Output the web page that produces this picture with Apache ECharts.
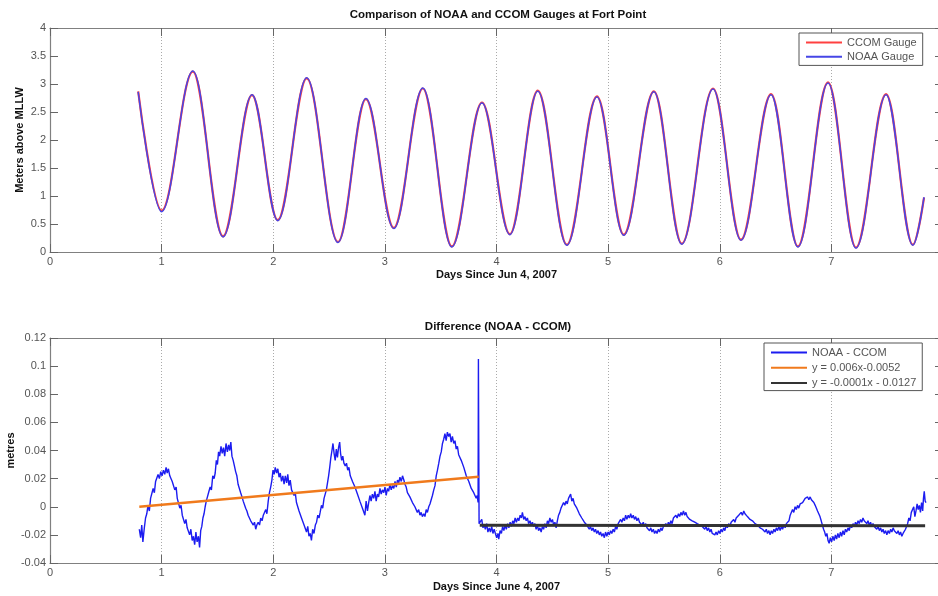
<!DOCTYPE html>
<html>
<head>
<meta charset="utf-8">
<script src="https://cdn.jsdelivr.net/npm/echarts@6/dist/echarts.min.js"></script>
<style>
html,body{margin:0;padding:0;background:#fff;}
#chart{width:938px;height:596px;}
</style>
</head>
<body>
<div id="chart"></div>
<script>
// ---------- DATA ----------
// Top panel: tide extremes (days since Jun 4, 2007 ; metres above MLLW)
const tideDays   = [0.79, 1.00, 1.28, 1.55, 1.81, 2.04, 2.30, 2.58, 2.83, 3.08, 3.34, 3.60, 3.87, 4.12, 4.37, 4.63, 4.90, 5.14, 5.41, 5.66, 5.94, 6.19, 6.46, 6.70, 6.97, 7.22, 7.49, 7.73, 7.83];
const ccomLevel  = [2.87, 0.74, 3.22, 0.28, 2.80, 0.57, 3.10, 0.18, 2.73, 0.43, 2.92, 0.10, 2.67, 0.32, 2.88, 0.13, 2.78, 0.31, 2.87, 0.15, 2.92, 0.22, 2.82, 0.10, 3.03, 0.08, 2.82, 0.13, 0.97];
const noaaLevel  = [2.86, 0.72, 3.23, 0.27, 2.81, 0.56, 3.11, 0.17, 2.74, 0.42, 2.93, 0.09, 2.66, 0.31, 2.87, 0.12, 2.77, 0.30, 2.86, 0.14, 2.91, 0.21, 2.81, 0.09, 3.02, 0.07, 2.81, 0.12, 0.98];

// Bottom panel: NOAA - CCOM difference (days ; metres)
const diffSeries = [
[0.800,-0.016],[0.812,-0.022],[0.822,-0.013],[0.832,-0.025],[0.845,-0.015],[0.856,-0.008],[0.867,-0.005],[0.878,0.001],[0.890,-0.003],[0.901,0.006],[0.912,0.007],[0.924,0.013],[0.935,0.010],[0.946,0.018],[0.957,0.019],[0.968,0.023],[0.980,0.020],[0.992,0.025],[1.004,0.022],[1.016,0.026],[1.028,0.023],[1.040,0.028],[1.050,0.024],[1.061,0.027],[1.073,0.022],[1.085,0.023],[1.095,0.018],[1.106,0.019],[1.118,0.012],[1.130,0.014],[1.140,0.006],[1.151,0.005],[1.163,-0.001],[1.174,0.001],[1.185,-0.006],[1.196,-0.007],[1.207,-0.012],[1.218,-0.009],[1.229,-0.015],[1.240,-0.014],[1.251,-0.020],[1.262,-0.016],[1.274,-0.024],[1.285,-0.021],[1.296,-0.027],[1.307,-0.018],[1.318,-0.025],[1.330,-0.021],[1.340,-0.029],[1.350,-0.017],[1.360,-0.014],[1.370,-0.008],[1.380,-0.005],[1.390,0.000],[1.400,0.004],[1.412,0.003],[1.424,0.011],[1.435,0.014],[1.446,0.012],[1.458,0.022],[1.470,0.020],[1.480,0.024],[1.490,0.033],[1.500,0.030],[1.510,0.039],[1.520,0.036],[1.532,0.043],[1.543,0.038],[1.554,0.042],[1.565,0.036],[1.577,0.045],[1.589,0.039],[1.600,0.044],[1.610,0.040],[1.620,0.046],[1.630,0.036],[1.641,0.033],[1.652,0.029],[1.663,0.025],[1.674,0.022],[1.685,0.016],[1.697,0.017],[1.708,0.010],[1.720,0.007],[1.731,0.004],[1.742,0.005],[1.753,-0.001],[1.764,-0.003],[1.775,-0.006],[1.787,-0.005],[1.798,-0.010],[1.810,-0.009],[1.821,-0.013],[1.832,-0.011],[1.843,-0.016],[1.853,-0.013],[1.865,-0.011],[1.877,-0.013],[1.888,-0.008],[1.900,-0.010],[1.911,-0.006],[1.922,-0.007],[1.933,-0.002],[1.943,-0.005],[1.955,0.004],[1.966,0.010],[1.977,0.014],[1.988,0.019],[1.998,0.026],[2.008,0.023],[2.018,0.028],[2.030,0.024],[2.041,0.027],[2.052,0.021],[2.063,0.024],[2.074,0.018],[2.086,0.022],[2.097,0.016],[2.108,0.022],[2.120,0.017],[2.130,0.023],[2.141,0.015],[2.152,0.019],[2.164,0.012],[2.175,0.013],[2.186,0.008],[2.197,0.010],[2.208,0.003],[2.220,0.004],[2.231,-0.003],[2.242,-0.002],[2.253,-0.008],[2.264,-0.007],[2.276,-0.013],[2.287,-0.012],[2.298,-0.018],[2.309,-0.014],[2.320,-0.021],[2.331,-0.019],[2.342,-0.024],[2.353,-0.016],[2.365,-0.019],[2.377,-0.013],[2.388,-0.011],[2.399,-0.006],[2.410,-0.008],[2.420,-0.004],[2.432,0.001],[2.443,-0.001],[2.455,0.006],[2.466,0.005],[2.476,0.012],[2.486,0.017],[2.496,0.022],[2.506,0.028],[2.516,0.035],[2.526,0.040],[2.535,0.045],[2.545,0.038],[2.555,0.033],[2.565,0.041],[2.575,0.035],[2.585,0.042],[2.595,0.046],[2.603,0.038],[2.613,0.033],[2.623,0.036],[2.633,0.031],[2.645,0.029],[2.656,0.031],[2.667,0.026],[2.678,0.028],[2.690,0.022],[2.700,0.023],[2.710,0.018],[2.720,0.019],[2.732,0.014],[2.743,0.015],[2.754,0.009],[2.765,0.009],[2.776,0.004],[2.788,0.005],[2.799,-0.001],[2.810,0.000],[2.821,-0.006],[2.832,0.004],[2.844,-0.003],[2.855,0.003],[2.866,0.008],[2.877,0.004],[2.888,0.009],[2.900,0.006],[2.911,0.011],[2.922,0.004],[2.933,0.009],[2.944,0.007],[2.956,0.013],[2.967,0.009],[2.978,0.012],[2.990,0.010],[3.001,0.014],[3.012,0.008],[3.023,0.013],[3.034,0.011],[3.045,0.016],[3.057,0.012],[3.068,0.015],[3.080,0.013],[3.091,0.018],[3.102,0.014],[3.113,0.019],[3.124,0.017],[3.135,0.021],[3.147,0.018],[3.158,0.022],[3.170,0.019],[3.180,0.016],[3.191,0.014],[3.202,0.010],[3.213,0.011],[3.224,0.007],[3.236,0.008],[3.247,0.003],[3.258,0.004],[3.269,0.000],[3.280,0.001],[3.291,-0.004],[3.303,-0.002],[3.314,-0.006],[3.325,-0.004],[3.336,-0.007],[3.348,-0.005],[3.359,-0.007],[3.370,-0.002],[3.381,-0.004],[3.393,0.000],[3.404,0.002],[3.415,0.005],[3.426,0.008],[3.438,0.012],[3.449,0.015],[3.460,0.022],[3.471,0.026],[3.483,0.031],[3.494,0.036],[3.505,0.039],[3.516,0.045],[3.527,0.048],[3.538,0.052],[3.549,0.047],[3.560,0.053],[3.572,0.050],[3.583,0.052],[3.594,0.046],[3.605,0.050],[3.617,0.045],[3.628,0.047],[3.639,0.041],[3.650,0.043],[3.661,0.037],[3.672,0.038],[3.684,0.033],[3.695,0.032],[3.707,0.028],[3.718,0.027],[3.729,0.022],[3.740,0.023],[3.752,0.018],[3.763,0.017],[3.774,0.013],[3.785,0.014],[3.796,0.010],[3.807,0.011],[3.818,0.006],[3.827,0.008],
[3.835,0.003],[3.838,0.105],[3.841,0.045],[3.844,-0.012],
[3.857,-0.012],[3.868,-0.009],[3.879,-0.015],[3.890,-0.013],[3.900,-0.016],[3.912,-0.012],[3.923,-0.018],[3.935,-0.015],[3.946,-0.018],[3.957,-0.014],[3.968,-0.019],[3.979,-0.016],[3.990,-0.019],[4.002,-0.022],[4.013,-0.019],[4.020,-0.023],[4.032,-0.017],[4.044,-0.019],[4.055,-0.014],[4.066,-0.017],[4.077,-0.013],[4.088,-0.016],[4.100,-0.012],[4.111,-0.015],[4.122,-0.011],[4.133,-0.014],[4.145,-0.010],[4.156,-0.012],[4.167,-0.008],[4.178,-0.011],[4.190,-0.008],[4.200,-0.010],[4.212,-0.006],[4.223,-0.008],[4.232,-0.004],[4.244,-0.009],[4.255,-0.007],[4.266,-0.010],[4.277,-0.008],[4.288,-0.012],[4.300,-0.010],[4.311,-0.013],[4.322,-0.011],[4.333,-0.014],[4.344,-0.012],[4.355,-0.016],[4.366,-0.013],[4.377,-0.017],[4.389,-0.015],[4.400,-0.018],[4.411,-0.014],[4.422,-0.016],[4.433,-0.012],[4.445,-0.015],[4.456,-0.010],[4.467,-0.012],[4.478,-0.008],[4.490,-0.011],[4.501,-0.009],[4.512,-0.013],[4.523,-0.011],[4.534,-0.015],[4.545,-0.010],[4.556,-0.006],[4.567,-0.004],[4.578,-0.001],[4.590,0.000],[4.601,0.003],[4.612,0.001],[4.623,0.004],[4.634,0.002],[4.645,0.006],[4.656,0.005],[4.664,0.009],[4.675,0.004],[4.686,0.006],[4.697,0.002],[4.708,0.003],[4.720,-0.001],[4.731,-0.002],[4.742,-0.005],[4.753,-0.004],[4.764,-0.008],[4.775,-0.007],[4.787,-0.011],[4.798,-0.010],[4.809,-0.013],[4.820,-0.012],[4.831,-0.016],[4.842,-0.014],[4.853,-0.017],[4.865,-0.015],[4.876,-0.018],[4.887,-0.016],[4.898,-0.019],[4.910,-0.017],[4.921,-0.020],[4.932,-0.018],[4.943,-0.021],[4.955,-0.019],[4.966,-0.022],[4.977,-0.018],[4.988,-0.021],[5.000,-0.018],[5.011,-0.020],[5.022,-0.017],[5.033,-0.019],[5.045,-0.016],[5.056,-0.018],[5.067,-0.014],[5.078,-0.016],[5.090,-0.012],[5.101,-0.013],[5.112,-0.009],[5.123,-0.011],[5.135,-0.008],[5.146,-0.010],[5.157,-0.006],[5.168,-0.009],[5.180,-0.006],[5.191,-0.008],[5.202,-0.005],[5.213,-0.008],[5.225,-0.006],[5.236,-0.009],[5.247,-0.007],[5.258,-0.010],[5.270,-0.008],[5.281,-0.011],[5.292,-0.010],[5.303,-0.013],[5.315,-0.011],[5.326,-0.014],[5.337,-0.012],[5.348,-0.015],[5.360,-0.014],[5.371,-0.017],[5.382,-0.015],[5.393,-0.018],[5.405,-0.016],[5.416,-0.019],[5.427,-0.017],[5.438,-0.019],[5.450,-0.016],[5.461,-0.018],[5.472,-0.015],[5.483,-0.017],[5.495,-0.014],[5.506,-0.015],[5.517,-0.012],[5.528,-0.014],[5.540,-0.011],[5.551,-0.013],[5.562,-0.010],[5.573,-0.012],[5.585,-0.008],[5.596,-0.009],[5.607,-0.006],[5.618,-0.008],[5.630,-0.005],[5.641,-0.007],[5.652,-0.004],[5.663,-0.006],[5.675,-0.003],[5.686,-0.006],[5.697,-0.004],[5.708,-0.007],[5.720,-0.006],[5.731,-0.009],[5.742,-0.008],[5.753,-0.010],[5.765,-0.009],[5.776,-0.011],[5.787,-0.010],[5.798,-0.012],[5.810,-0.011],[5.821,-0.013],[5.832,-0.012],[5.843,-0.014],[5.855,-0.013],[5.866,-0.016],[5.877,-0.014],[5.888,-0.017],[5.900,-0.015],[5.911,-0.018],[5.922,-0.016],[5.933,-0.019],[5.945,-0.018],[5.956,-0.020],[5.967,-0.018],[5.978,-0.020],[5.990,-0.017],[6.001,-0.019],[6.012,-0.016],[6.023,-0.018],[6.035,-0.015],[6.046,-0.017],[6.057,-0.013],[6.068,-0.015],[6.080,-0.012],[6.091,-0.014],[6.102,-0.011],[6.113,-0.012],[6.125,-0.009],[6.136,-0.011],[6.147,-0.008],[6.158,-0.009],[6.170,-0.006],[6.181,-0.007],[6.192,-0.004],[6.203,-0.006],[6.215,-0.003],[6.226,-0.005],[6.237,-0.004],[6.248,-0.007],[6.260,-0.006],[6.271,-0.009],[6.282,-0.008],[6.293,-0.010],[6.305,-0.009],[6.316,-0.012],[6.327,-0.011],[6.338,-0.013],[6.350,-0.012],[6.361,-0.015],[6.372,-0.014],[6.383,-0.016],[6.395,-0.015],[6.406,-0.018],[6.417,-0.016],[6.428,-0.019],[6.440,-0.017],[6.451,-0.020],[6.462,-0.017],[6.473,-0.019],[6.485,-0.016],[6.496,-0.018],[6.507,-0.015],[6.518,-0.017],[6.530,-0.014],[6.541,-0.017],[6.552,-0.014],[6.563,-0.016],[6.575,-0.013],[6.586,-0.015],[6.597,-0.012],[6.608,-0.013],[6.620,-0.010],[6.631,-0.006],[6.642,-0.007],[6.652,-0.002],[6.663,-0.004],[6.675,0.000],[6.686,-0.002],[6.697,0.001],[6.708,-0.001],[6.720,0.002],[6.731,0.001],[6.742,0.003],[6.753,0.004],[6.765,0.006],[6.776,0.005],[6.787,0.007],[6.798,0.005],[6.810,0.007],[6.821,0.005],[6.832,0.005],[6.843,0.003],[6.855,0.001],[6.866,-0.001],[6.876,-0.003],[6.887,-0.005],[6.898,-0.007],[6.909,-0.010],[6.920,-0.011],[6.930,-0.016],[6.940,-0.018],[6.950,-0.021],[6.960,-0.019],[6.970,-0.024],[6.980,-0.026],[6.991,-0.022],[7.002,-0.025],[7.013,-0.021],[7.025,-0.024],[7.036,-0.020],[7.047,-0.023],[7.058,-0.019],[7.070,-0.022],[7.081,-0.018],[7.092,-0.021],[7.104,-0.017],[7.115,-0.020],[7.126,-0.016],[7.137,-0.018],[7.149,-0.015],[7.160,-0.017],[7.171,-0.013],[7.182,-0.015],[7.194,-0.012],[7.205,-0.014],[7.216,-0.011],[7.227,-0.013],[7.239,-0.010],[7.250,-0.012],[7.261,-0.009],[7.272,-0.011],[7.283,-0.008],[7.294,-0.010],[7.306,-0.009],[7.317,-0.012],[7.328,-0.010],[7.339,-0.013],[7.351,-0.011],[7.362,-0.014],[7.373,-0.012],[7.384,-0.014],[7.396,-0.013],[7.407,-0.016],[7.418,-0.014],[7.430,-0.017],[7.441,-0.015],[7.452,-0.018],[7.463,-0.016],[7.474,-0.019],[7.486,-0.017],[7.497,-0.020],[7.508,-0.017],[7.520,-0.019],[7.531,-0.016],[7.542,-0.018],[7.553,-0.015],[7.564,-0.017],[7.576,-0.016],[7.587,-0.019],[7.598,-0.017],[7.609,-0.020],[7.620,-0.018],[7.631,-0.021],[7.642,-0.019],[7.653,-0.020],[7.664,-0.016],[7.675,-0.017],[7.683,-0.012],[7.694,-0.008],[7.705,-0.010],[7.716,-0.004],[7.728,-0.005],[7.738,0.000],[7.748,-0.007],[7.758,-0.003],[7.768,0.002],[7.778,-0.002],[7.788,0.001],[7.798,-0.004],[7.808,0.003],[7.818,-0.003],[7.825,0.006],[7.832,0.011],[7.840,0.004],[7.848,0.003]
];

// Linear fits (end points)
const fitRisingDays   = [0.80, 3.84];
const fitRisingValues = [0.000, 0.0213];
const fitFlatDays     = [3.85, 7.84];
const fitFlatValues   = [-0.0131, -0.0135];

// Labels
const topTitle = 'Comparison of NOAA and CCOM Gauges at Fort Point';
const bottomTitle = 'Difference (NOAA - CCOM)';
const topXName = 'Days Since Jun 4, 2007';
const bottomXName = 'Days Since June 4, 2007';
const topYName = 'Meters above MLLW';
const bottomYName = 'metres';
const legendTop = ['CCOM Gauge', 'NOAA Gauge'];
const legendBottom = ['NOAA - CCOM', 'y = 0.006x-0.0052', 'y = -0.0001x - 0.0127'];

// ---------- CHART ----------
const FONT = '"Liberation Sans", Arial, sans-serif';
const zip = (a, b) => a.map((v, i) => [v, b[i]]);
const axisGray = '#808080';

function xAxes(gridIndex, name, gap) {
  const base = {
    type: 'value', gridIndex: gridIndex, min: 0, max: 8, interval: 1,
    axisLine: {show: true, onZero: false, lineStyle: {color: axisGray, width: 1.2}},
    axisTick: {show: true, inside: true, length: 8, lineStyle: {color: '#666'}},
  };
  return [
    Object.assign({}, base, {
      position: 'bottom', name: name, nameLocation: 'middle', nameGap: gap, nameMoveOverlap: false,
      nameTextStyle: {fontFamily: FONT, fontSize: 11, fontWeight: 'bold', color: '#111'},
      axisLabel: {show: true, margin: 4, fontFamily: FONT, fontSize: 11, color: '#555', showMaxLabel: false},
      splitLine: {show: true, lineStyle: {color: '#aaa', type: [1, 2], width: 1}}
    }),
    Object.assign({}, base, {
      position: 'top', axisLabel: {show: false}, splitLine: {show: false}
    })
  ];
}
function yAxes(gridIndex, min, max, interval, name, gap) {
  const base = {
    type: 'value', gridIndex: gridIndex, min: min, max: max, interval: interval,
    axisLine: {show: true, onZero: false, lineStyle: {color: axisGray, width: 1.2}},
    axisTick: {show: true, inside: true, length: 8, lineStyle: {color: '#666'}},
    splitLine: {show: false}
  };
  return [
    Object.assign({}, base, {
      position: 'left', name: name, nameLocation: 'middle', nameGap: gap, nameRotate: 90, nameMoveOverlap: false,
      nameTextStyle: {fontFamily: FONT, fontSize: 11, fontWeight: 'bold', color: '#111'},
      axisLabel: {show: true, margin: 4, fontFamily: FONT, fontSize: 11, color: '#555'}
    }),
    Object.assign({}, base, {position: 'right', axisLabel: {show: false}})
  ];
}

const legendBase = {
  orient: 'vertical', itemWidth: 36, itemHeight: 14,
  borderColor: '#555', borderWidth: 1, backgroundColor: '#fff',
  itemStyle: {color: 'rgba(0,0,0,0)', borderColor: 'rgba(0,0,0,0)', borderWidth: 0, opacity: 0},
  textStyle: {fontFamily: FONT, fontSize: 11, color: '#555'}
};

const chart = echarts.init(document.getElementById('chart'), null, {renderer: 'canvas'});
const option = {
  backgroundColor: '#fff',
  animation: false,
  title: [
    {text: topTitle, left: 493, top: 4, textAlign: 'center',
     textStyle: {fontFamily: FONT, fontSize: 11.5, fontWeight: 'bold', color: '#111'}},
    {text: bottomTitle, left: 493, top: 316, textAlign: 'center',
     textStyle: {fontFamily: FONT, fontSize: 11.5, fontWeight: 'bold', color: '#111'}}
  ],
  legend: [
    Object.assign({}, legendBase, {data: legendTop, left: 799, top: 33, itemGap: 3, padding: [4, 6, 3, 6]}),
    Object.assign({}, legendBase, {data: legendBottom, left: 764, top: 343, itemGap: 4, padding: [4, 6, 2, 6]})
  ],
  grid: [
    {left: 50, right: -5, top: 28, height: 224, outerBoundsMode: 'none', containLabel: false},
    {left: 50, right: -5, top: 338, height: 225, outerBoundsMode: 'none', containLabel: false}
  ],
  xAxis: xAxes(0, topXName, 17).concat(xAxes(1, bottomXName, 18)),
  yAxis: yAxes(0, 0, 4, 0.5, topYName, 25).concat(yAxes(1, -0.04, 0.12, 0.02, bottomYName, 34)),
  series: [
    {name: legendTop[0], type: 'line', xAxisIndex: 0, yAxisIndex: 0, data: zip(tideDays, ccomLevel),
     smooth: 0.36, smoothMonotone: 'x', symbol: 'none',
     lineStyle: {color: '#ff4040', width: 2.2}, itemStyle: {color: '#ff4040'}},
    {name: legendTop[1], type: 'line', xAxisIndex: 0, yAxisIndex: 0, data: zip(tideDays, noaaLevel),
     smooth: 0.36, smoothMonotone: 'x', symbol: 'none',
     lineStyle: {color: '#4646e6', width: 1.5}, itemStyle: {color: '#4646e6'}},
    {name: legendBottom[0], type: 'line', xAxisIndex: 2, yAxisIndex: 2, data: diffSeries,
     symbol: 'none', lineStyle: {color: '#1c1cf0', width: 1.4}, itemStyle: {color: '#1c1cf0'}},
    {name: legendBottom[1], type: 'line', xAxisIndex: 2, yAxisIndex: 2, data: zip(fitRisingDays, fitRisingValues),
     symbol: 'none', lineStyle: {color: '#f07a1c', width: 2.5}, itemStyle: {color: '#f07a1c'}},
    {name: legendBottom[2], type: 'line', xAxisIndex: 2, yAxisIndex: 2, data: zip(fitFlatDays, fitFlatValues),
     symbol: 'none', lineStyle: {color: '#333', width: 3}, itemStyle: {color: '#333'}}
  ]
};
chart.setOption(option);
</script>
</body>
</html>
